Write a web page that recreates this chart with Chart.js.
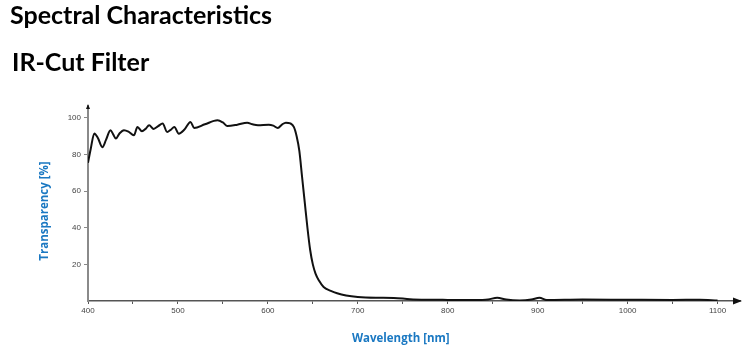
<!DOCTYPE html>
<html>
<head>
<meta charset="utf-8">
<script src="https://cdn.jsdelivr.net/npm/chart.js@4/dist/chart.umd.min.js"></script>
<style>
  html, body { margin: 0; padding: 0; background: #fff; }
  #wrap { position: relative; width: 744px; height: 357px; overflow: hidden; }
  .hdr { position: absolute; font-family: Lato, "Open Sans", sans-serif; font-weight: 700; color: #000; white-space: nowrap; line-height: 1; }
  #h1 { left: 10px; top: 2px; font-size: 25px; }
  #h2 { left: 12px; top: 49px; font-size: 25px; }
  canvas { position: absolute; left: 0; top: 0; }
</style>
</head>
<body>
<div id="wrap">
  <canvas id="c" width="744" height="357"></canvas>
  <div class="hdr" id="h1">Spectral Characteristics</div>
  <div class="hdr" id="h2">IR-Cut Filter</div>
</div>
<script>
// Data
const wavelengths = [400, 403, 407, 411, 416, 420, 425, 428, 431, 435, 440, 445, 451, 455, 460, 464, 468, 473, 478, 483, 488, 492, 496, 501, 507, 514, 518, 530, 544, 550, 555, 566, 577, 583, 589, 601, 606, 611, 616, 620, 625, 629, 632, 635, 638, 641, 644, 647, 650, 653, 657, 662, 670, 677, 687, 700, 720, 740, 758, 780, 800, 830, 845, 855, 865, 880, 893, 902, 910, 950, 1000, 1050, 1080, 1100];
const transparency = [75.5, 83, 91.5, 89, 84, 88, 93.3, 91, 88.7, 91.5, 93.3, 92.5, 90.5, 95, 92.7, 94, 96, 94, 95.5, 96.9, 92.3, 93.5, 95, 91.4, 93.5, 97.8, 94.5, 96.5, 98.7, 97.5, 95.6, 96.3, 97.4, 96.5, 96, 96.3, 95.8, 94.5, 96.5, 97.4, 97, 95, 90, 82, 68, 54, 40, 28, 20, 15, 11, 7.6, 5.5, 4.2, 3, 2.2, 1.8, 1.7, 1, 0.7, 0.6, 0.5, 0.8, 1.8, 0.8, 0.3, 0.8, 1.8, 0.5, 0.8, 0.7, 0.6, 0.7, 0.3];
const xTickValues = [400, 450, 500, 550, 600, 650, 700, 750, 800, 850, 900, 950, 1000, 1050, 1100];
const yTickValues = [20, 40, 60, 80, 100];
const xTitle = "Wavelength [nm]";
const yTitle = "Transparency [%]";

const points = wavelengths.map((w, i) => ({ x: w, y: transparency[i] }));
const tickFont = { family: "Arial, 'Liberation Sans', sans-serif", size: 8 };
const blue = "#1a78c2";

const extras = {
  id: 'extras',
  afterDraw(chart) {
    const { ctx, chartArea } = chart;
    const xs = chart.scales.x, ys = chart.scales.y;
    ctx.save();
    // arrowheads
    ctx.fillStyle = '#111';
    const ax = xs.left, topY = chartArea.top;
    ctx.beginPath();
    ctx.moveTo(ax, topY - 2);
    ctx.lineTo(ax - 2, topY + 3);
    ctx.lineTo(ax + 2, topY + 3);
    ctx.closePath();
    ctx.fill();
    const ay = ys.bottom, rightX = chartArea.right;
    ctx.beginPath();
    ctx.moveTo(rightX + 2, ay);
    ctx.lineTo(rightX - 7, ay - 3.5);
    ctx.lineTo(rightX - 7, ay + 3.5);
    ctx.closePath();
    ctx.fill();
    // axis titles
    ctx.fillStyle = blue;
    ctx.font = "bold 11.5px 'Open Sans', sans-serif";
    ctx.textAlign = 'center';
    ctx.textBaseline = 'middle';
    const cx = (xs.getPixelForValue(400) + xs.getPixelForValue(1100)) / 2;
    ctx.fillText(xTitle, cx - 2, 339);
    ctx.translate(45, 211);
    ctx.rotate(-Math.PI / 2);
    ctx.fillText(yTitle, 0, 0);
    ctx.restore();
  }
};

new Chart(document.getElementById('c'), {
  type: 'line',
  data: {
    datasets: [{
      data: points,
      borderColor: '#111',
      borderWidth: 2,
      pointRadius: 0,
      tension: 0.4,
      cubicInterpolationMode: 'monotone',
      fill: false
    }]
  },
  options: {
    responsive: false,
    animation: false,
    layout: { padding: { top: 106, left: 0, right: 4, bottom: 0 } },
    plugins: { legend: { display: false }, tooltip: { enabled: false }, title: { display: false } },
    scales: {
      x: {
        type: 'linear',
        min: 400,
        max: 1125,
        afterFit(s) { s.height = 56; },
        afterBuildTicks(s) { s.ticks = xTickValues.map(v => ({ value: v })); },
        ticks: {
          autoSkip: false,
          maxRotation: 0,
          padding: 2,
          color: '#444',
          font: tickFont,
          callback: v => (v % 100 === 0 ? String(v) : '')
        },
        grid: { drawOnChartArea: false, drawTicks: true, tickLength: 3, color: '#555' },
        border: { display: true, color: '#555', width: 1.5 }
      },
      y: {
        type: 'linear',
        min: 0,
        max: 106.5,
        afterFit(s) { s.width = 88; },
        afterBuildTicks(s) { s.ticks = yTickValues.map(v => ({ value: v })); },
        ticks: { padding: 3, color: '#444', font: tickFont },
        grid: { drawOnChartArea: false, drawTicks: true, tickLength: 4, color: '#888' },
        border: { display: true, color: '#8a8a8a', width: 2 }
      }
    }
  },
  plugins: [extras]
});
</script>
</body>
</html>
